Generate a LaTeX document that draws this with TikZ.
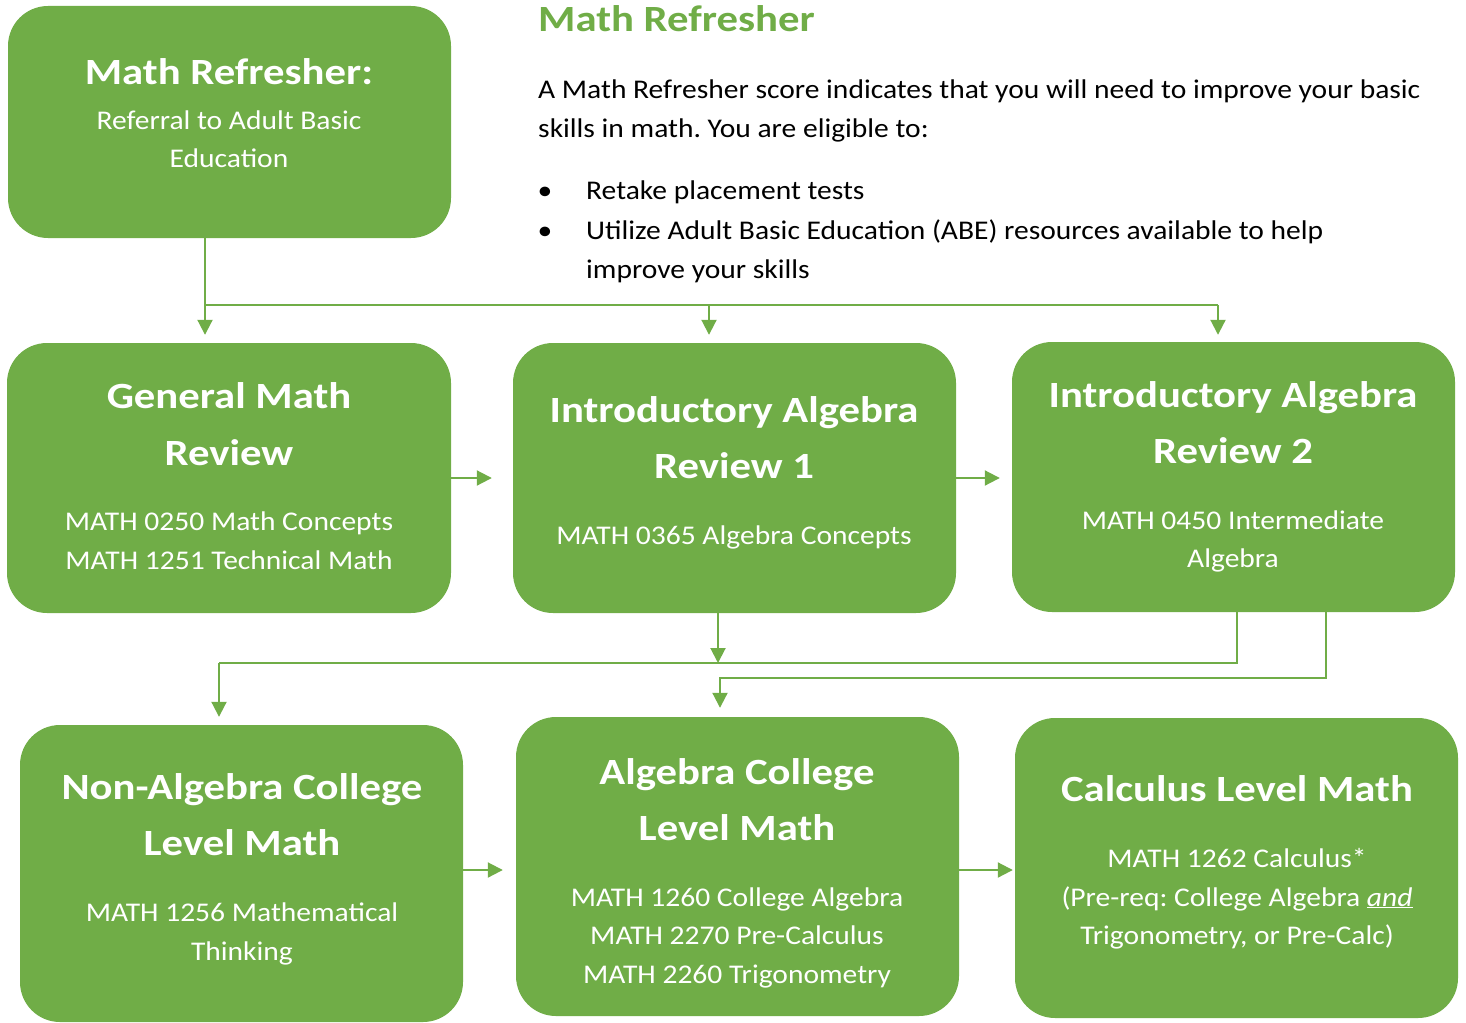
\documentclass[tikz,border=0pt]{standalone}
\usepackage{fontspec}
\setmainfont{Carlito}[FakeStretch=1.094]
\newfontfamily\ttlfont{Carlito}[FakeStretch=1.155]
\usetikzlibrary{arrows.meta}
\definecolor{mygreen}{HTML}{70AD47}
\frenchspacing
\begin{document}
\begin{tikzpicture}[x=1pt,y=-1pt,
  box/.style={fill=mygreen, draw=none, rounded corners=40pt, inner sep=0pt},
  ttl/.style={text=white, font=\ttlfont\fontsize{37}{44}\selectfont\bfseries, anchor=base, inner sep=0pt},
  sub/.style={text=white, font=\fontsize{27}{32}\selectfont, anchor=base, inner sep=0pt},
  body/.style={text=black, font=\fontsize{27}{32}\selectfont, anchor=base west, inner sep=0pt},
  conn/.style={draw=mygreen, line width=2pt},
  arr/.style={conn, -{Triangle[length=15pt,width=15pt]}}]
\useasboundingbox (0,0) rectangle (1466,1022);

% boxes
\node[box, minimum width=443pt, minimum height=232pt] (mr) at (229.5,122) {};
\node[box, minimum width=444pt, minimum height=270pt] (gmr) at (229,478) {};
\node[box, minimum width=443pt, minimum height=270pt] (ia1) at (734.5,478) {};
\node[box, minimum width=443pt, minimum height=270pt] (ia2) at (1233.5,477) {};
\node[box, minimum width=443pt, minimum height=297pt] (nona) at (241.5,873.5) {};
\node[box, minimum width=443pt, minimum height=299pt] (alg) at (737.5,866.5) {};
\node[box, minimum width=443pt, minimum height=300pt] (calc) at (1236.5,868) {};

% box texts
\node[ttl] (mrt) at (229,85) {Math Refresher:};
\node[sub] (mrs1) at (229,129) {Referral to Adult Basic};
\node[sub] (mrs2) at (229,167) {Education};

\node[ttl] (gt1) at (229,408) {General Math};
\node[ttl] (gt2) at (229,465) {Review};
\node[sub] (gs1) at (229,530) {MATH 0250 Math Concepts};
\node[sub] (gs2) at (229,569) {MATH 1251 Technical Math};

\node[ttl] (at1) at (734,422) {Introductory Algebra};
\node[ttl] (at2) at (734,478) {Review 1};
\node[sub] (as1) at (734,544) {MATH 0365 Algebra Concepts};

\node[ttl] (bt1) at (1233,407) {Introductory Algebra};
\node[ttl] (bt2) at (1233,463) {Review 2};
\node[sub] (bs1) at (1233,529) {MATH 0450 Intermediate};
\node[sub] (bs2) at (1233,567) {Algebra};

\node[ttl] (nt1) at (242,799) {Non-Algebra College};
\node[ttl] (nt2) at (242,855) {Level Math};
\node[sub] (ns1) at (242,921) {MATH 1256 Mathematical};
\node[sub] (ns2) at (242,960) {Thinking};

\node[ttl] (ct1) at (737,784) {Algebra College};
\node[ttl] (ct2) at (737,840) {Level Math};
\node[sub] (cs1) at (737,906) {MATH 1260 College Algebra};
\node[sub] (cs2) at (737,944) {MATH 2270 Pre-Calculus};
\node[sub] (cs3) at (737,983) {MATH 2260 Trigonometry};

\node[ttl] (kt1) at (1237,801) {Calculus Level Math};
\node[sub] (ks1) at (1237,867) {MATH 1262 Calculus*};
\node[sub] (ks2) at (1237,906) {(Pre-req: College Algebra \textit{\underline{and}}};
\node[sub] (ks3) at (1237,944) {Trigonometry, or Pre-Calc)};

% right-hand text
\node[body, text=mygreen, font=\ttlfont\fontsize{37}{44}\selectfont\bfseries] (hd) at (538,32) {Math Refresher};
\node[body] (p1) at (538,99) {A Math Refresher score indicates that you will need to improve your basic};
\node[body] (p2) at (538,137) {skills in math. You are eligible to:};
\node[body, anchor=base] (b1) at (545,199) {•};
\node[body] (l1) at (586,199) {Retake placement tests};
\node[body, anchor=base] (b2) at (545,239) {•};
\node[body] (l2) at (586,239) {Utilize Adult Basic Education (ABE) resources available to help};
\node[body] (l3) at (586,278) {improve your skills};

% connectors row 1 -> row 2
\coordinate (j0) at (205,305);
\coordinate (j1) at (709,305);
\coordinate (j2) at (1218,305);
\draw[conn] (j0 |- mr.south) -- (j0) -- (j2);
\draw[arr, shorten >=8pt] (j0) -- (j0 |- gmr.north);
\draw[arr, shorten >=8pt] (j1) -- (j1 |- ia1.north);
\draw[arr, shorten >=7pt] (j2) -- (j2 |- ia2.north);

% row 2 horizontal
\draw[arr, shorten >=21pt] (gmr.east) -- (ia1.west);
\draw[arr, shorten >=12pt] (ia1.east) -- (ia2.west |- ia1.east);

% row 2 -> row 3
\coordinate (k0) at (219,663);
\coordinate (k1) at (718,663);
\coordinate (k2) at (1237,663);
\draw[arr] (k1 |- ia1.south) -- (k1);
\draw[conn] (k2 |- ia2.south) -- (k2) -- (k0);
\draw[arr, shorten >=8pt] (k0) -- (k0 |- nona.north);
\coordinate (m1) at (720,678);
\coordinate (m2) at (1326,678);
\draw[arr, shorten >=9pt] (m2 |- ia2.south) -- (m2) -- (m1) -- (m1 |- alg.north);

% row 3 horizontal
\coordinate (r3) at (0,870);
\draw[arr, shorten >=13pt] (nona.east |- r3) -- (alg.west |- r3);
\draw[arr, shorten >=2pt] (alg.east |- r3) -- (calc.west |- r3);
\end{tikzpicture}
\end{document}
